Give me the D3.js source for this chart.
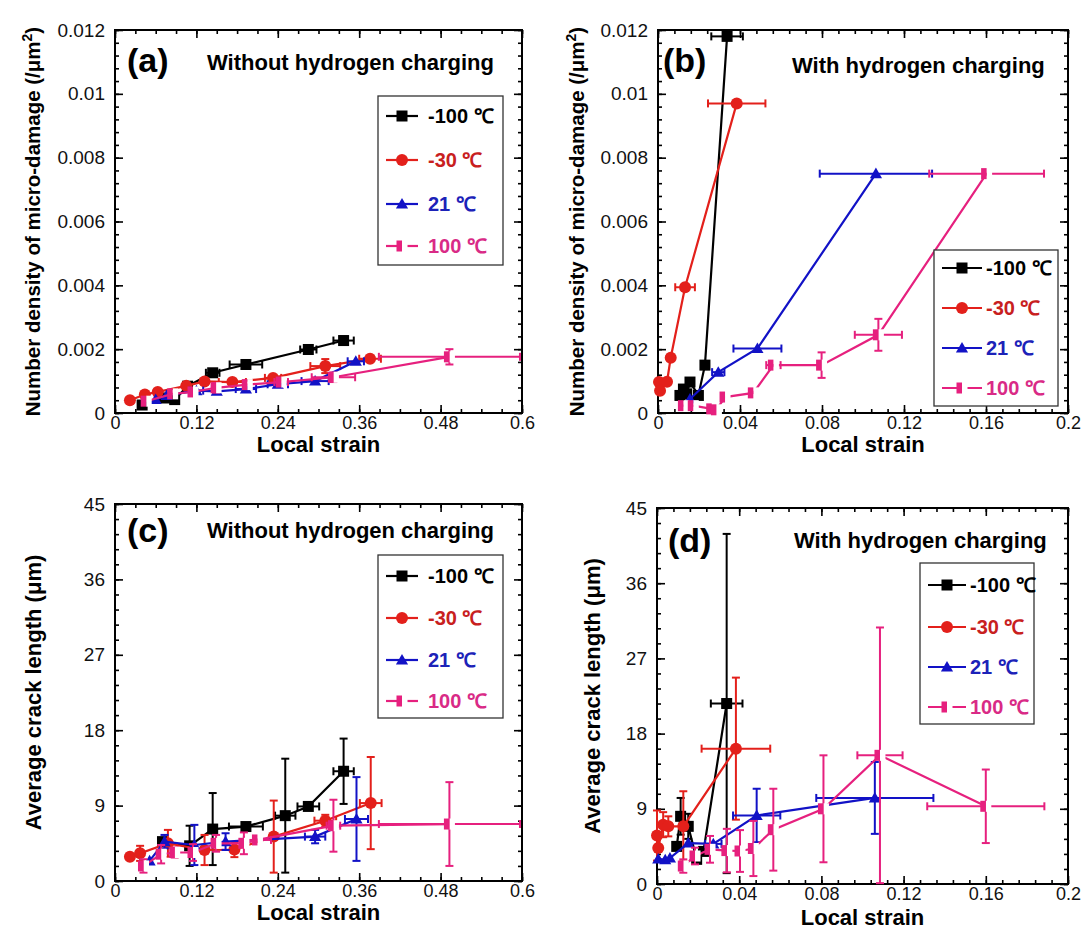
<!DOCTYPE html>
<html><head><meta charset="utf-8">
<script src="https://cdn.jsdelivr.net/npm/d3@7"></script>
<style>
body{margin:0;background:#fff}
svg{display:block}
text{font-family:"Liberation Sans",Arial,Helvetica,sans-serif}
</style>
</head><body>
<svg id="chart" width="1087" height="938"></svg>
<script>
// ---------- tick labels ----------
const strainTicksWide   = [0, 0.12, 0.24, 0.36, 0.48, 0.6];
const strainTicksNarrow = [0, 0.04, 0.08, 0.12, 0.16, 0.2];
const densityTicks      = [0, 0.002, 0.004, 0.006, 0.008, 0.01, 0.012];
const lengthTicks       = [0, 9, 18, 27, 36, 45];
const seriesNames = ["-100 \u2103", "-30 \u2103", "21 \u2103", "100 \u2103"];

// ---------- data: [local strain, value, strain error, value error] ----------
// (a) number density, without hydrogen
const densNoH_m100 = [[0.04,0.00025,0,0],[0.073,0.00047,0,0],[0.088,0.00042,0,0],[0.107,0.00084,0.006,0],[0.144,0.00126,0.01,0],[0.193,0.00152,0.024,0],[0.285,0.00199,0.012,0],[0.337,0.00227,0.015,0.00013]];
const densNoH_m30  = [[0.022,0.0004,0,0],[0.044,0.00058,0,0],[0.063,0.00066,0,0],[0.105,0.00085,0,0.0001],[0.132,0.00099,0,0],[0.173,0.00097,0.02,0],[0.233,0.0011,0.012,0],[0.31,0.00147,0.022,0.00022],[0.376,0.0017,0.016,0.00008]];
const densNoH_21   = [[0.06,0.00042,0,0],[0.076,0.00055,0,0],[0.12,0.0007,0.01,0],[0.15,0.00068,0,0],[0.193,0.00075,0.015,0],[0.24,0.0009,0.015,0],[0.295,0.001,0.02,0],[0.355,0.00162,0.012,0]];
const densNoH_100  = [[0.046,0.00037,0,0],[0.085,0.0006,0,0],[0.115,0.00066,0,0],[0.149,0.00079,0,0.00015],[0.195,0.00089,0,0],[0.245,0.00097,0.01,0],[0.322,0.00112,0.032,0.00015],[0.493,0.00176,0.104,0.00024]];
// (b) number density, with hydrogen
const densH_m100 = [[0.0107,0.00055,0,0],[0.0124,0.00075,0,0],[0.014,0.0006,0,0],[0.0156,0.00097,0,0],[0.0197,0.00055,0,0],[0.0229,0.0015,0,0],[0.0337,0.0118,0.0077,0]];
const densH_m30  = [[0.0005,0.00097,0,0],[0.001,0.0007,0,0],[0.0044,0.00098,0,0],[0.0062,0.00173,0,0],[0.0132,0.00394,0.0048,0],[0.0384,0.0097,0.014,0]];
const densH_21   = [[0.0156,0.00044,0,0],[0.0294,0.00128,0.003,0],[0.0485,0.00202,0.0117,0],[0.1063,0.0075,0.0274,0]];
const densH_100  = [[0.0124,0.00023,0,0],[0.0172,0.00023,0,0],[0.0262,0.00013,0,0],[0.0285,0.0001,0,0],[0.0327,0.0005,0,0],[0.0465,0.00063,0,0],[0.0563,0.0015,0.0035,0],[0.0798,0.0015,0,0.0004],[0.1075,0.00245,0.0115,0.0005],[0.1603,0.0075,0.028,0]];
// (c) average crack length, without hydrogen
const lenNoH_m100 = [[0.07,4.7,0,0],[0.11,4.2,0,2.4],[0.144,6.2,0,4.3],[0.193,6.5,0.025,0],[0.251,7.8,0.015,6.8],[0.285,8.9,0.016,0],[0.337,13.1,0.015,3.9]];
const lenNoH_m30  = [[0.022,2.9,0,0],[0.037,3.3,0,0.9],[0.078,4.5,0,1.6],[0.132,3.7,0,1.8],[0.176,3.75,0,0.9],[0.234,5.3,0,4.3],[0.31,7.2,0.016,0.7],[0.377,9.3,0.016,5.5]];
const lenNoH_21   = [[0.051,2.4,0,0],[0.073,4.7,0,0.8],[0.117,4.3,0,2.4],[0.163,4.7,0,1.0],[0.295,5.3,0.015,0.8],[0.356,7.4,0.017,5.0]];
const lenNoH_100  = [[0.042,1.8,0,0.8],[0.068,3.2,0,1.1],[0.088,3.4,0,0.6],[0.115,3.4,0,1.0],[0.149,4.5,0,1.0],[0.19,4.5,0,1.3],[0.21,4.9,0.02,0],[0.322,6.6,0.01,3.1],[0.493,6.8,0.104,5.0]];
// (d) average crack length, with hydrogen
const lenH_m100 = [[0.0096,4.5,0,0],[0.0115,8.1,0,2.2],[0.0152,6.9,0,1.5],[0.0193,2.95,0,0],[0.0226,3.9,0,0],[0.0339,21.6,0.0077,20.3]];
const lenH_m30  = [[0,5.8,0,3],[0.0006,4.3,0,0],[0.003,7.1,0,1.5],[0.0055,6.9,0,1.2],[0.0128,6.9,0,4.2],[0.0384,16.2,0.0167,8.5]];
const lenH_21   = [[0.0006,3.0,0,0],[0.004,2.9,0,0],[0.0063,3.1,0,0],[0.0152,4.9,0,0],[0.0274,4.8,0.004,0],[0.0485,8.2,0.0115,3.2],[0.106,10.3,0.0285,4.3]];
const lenH_100  = [[0.0128,2.15,0,0.8],[0.0185,3.35,0,1.0],[0.0258,4.15,0,1.6],[0.034,4.0,0,2.6],[0.0404,3.95,0,2.5],[0.0469,4.25,0,3.3],[0.0566,6.5,0,4.9],[0.081,9.0,0,6.4],[0.1085,15.4,0.011,15.3],[0.16,9.3,0.0285,4.4]];

// ---------- styles ----------
const lineColors = ["#000000", "#e3201b", "#1212c6", "#e6207e"];
const textColors = ["#000000", "#c8201e", "#1c22b8", "#d92a86"];
const markerKinds = ["square", "circle", "triangle", "halfsquare"];

const svg = d3.select("#chart");

const panels = [
  {label:"(a)", title:"Without hydrogen charging", left:115, right:522, top:30, bottom:413,
   xMax:0.6, xTicks:strainTicksWide, xMinor:0.03, yMax:0.012, yTicks:densityTicks, yMinor:0.0004,
   series:[densNoH_m100, densNoH_m30, densNoH_21, densNoH_100],
   ylab:"density", ylabX:33, xlabY:452, labX:127, labY:72, titX:207, titY:70,
   leg:{x0:378,y0:96,x1:503,y1:265, rows:[116,160,204,246], l0:386, l1:418, tx:428}},
  {label:"(b)", title:"With hydrogen charging", left:658, right:1068, top:30, bottom:413,
   xMax:0.2, xTicks:strainTicksNarrow, xMinor:0.008, yMax:0.012, yTicks:densityTicks, yMinor:0.0004,
   series:[densH_m100, densH_m30, densH_21, densH_100],
   ylab:"density", ylabX:577, xlabY:452, labX:663, labY:72, titX:792, titY:73,
   leg:{x0:934,y0:250,x1:1058,y1:406, rows:[268,308,348,388], l0:942, l1:982, tx:986}},
  {label:"(c)", title:"Without hydrogen charging", left:115, right:522, top:504, bottom:881,
   xMax:0.6, xTicks:strainTicksWide, xMinor:0.03, yMax:45, yTicks:lengthTicks, yMinor:1.8,
   series:[lenNoH_m100, lenNoH_m30, lenNoH_21, lenNoH_100],
   ylab:"length", ylabX:33, xlabY:920, labX:127, labY:542, titX:207, titY:538,
   leg:{x0:378,y0:555,x1:503,y1:718, rows:[576,618,660,701], l0:386, l1:418, tx:428}},
  {label:"(d)", title:"With hydrogen charging", left:657, right:1068, top:508, bottom:884,
   xMax:0.2, xTicks:strainTicksNarrow, xMinor:0.008, yMax:45, yTicks:lengthTicks, yMinor:1.8,
   series:[lenH_m100, lenH_m30, lenH_21, lenH_100],
   ylab:"length", ylabX:592, xlabY:925, labX:668, labY:552, titX:794, titY:548,
   leg:{x0:920,y0:563,x1:1034,y1:724, rows:[585,627,667,707], l0:928, l1:966, tx:970}}
];

function drawMarker(g, kind, cx, cy, color) {
  if (kind === "square") {
    g.append("rect").attr("x", cx-5.5).attr("y", cy-5.5).attr("width", 11).attr("height", 11).attr("fill", color);
  } else if (kind === "circle") {
    g.append("circle").attr("cx", cx).attr("cy", cy).attr("r", 6).attr("fill", color);
  } else if (kind === "triangle") {
    g.append("path").attr("d", d3.symbol(d3.symbolTriangle, 64)()).attr("transform", `translate(${cx},${cy+1})`).attr("fill", color);
  } else {
    g.append("rect").attr("x", cx).attr("y", cy-5.5).attr("width", 5.5).attr("height", 11).attr("fill", "#ffffff");
    g.append("rect").attr("x", cx-5.5).attr("y", cy-5.5).attr("width", 5.5).attr("height", 11).attr("fill", color);
  }
}

function minorValues(max, step) {
  const n = Math.round(max / step);
  return d3.range(n + 1).map(i => i * step);
}

panels.forEach(p => {
  const g = svg.append("g");
  const x = d3.scaleLinear().domain([0, p.xMax]).range([p.left, p.right]);
  const y = d3.scaleLinear().domain([0, p.yMax]).range([p.bottom, p.top]);
  const fmt = d => String(d);

  const axes = g.append("g").attr("class", "axes");
  // major
  axes.append("g").attr("class", "xlab").attr("transform", `translate(0,${p.bottom})`)
    .call(d3.axisBottom(x).tickValues(p.xTicks).tickSize(-8).tickPadding(3).tickFormat(fmt));
  axes.append("g").attr("transform", `translate(0,${p.top})`)
    .call(d3.axisTop(x).tickValues(p.xTicks).tickSize(-8).tickFormat(""));
  axes.append("g").attr("transform", `translate(${p.left},0)`)
    .call(d3.axisLeft(y).tickValues(p.yTicks).tickSize(-8).tickPadding(10).tickFormat(fmt));
  axes.append("g").attr("transform", `translate(${p.right},0)`)
    .call(d3.axisRight(y).tickValues(p.yTicks).tickSize(-8).tickFormat(""));
  // minor
  const xm = minorValues(p.xMax, p.xMinor), ym = minorValues(p.yMax, p.yMinor);
  axes.append("g").attr("transform", `translate(0,${p.bottom})`)
    .call(d3.axisBottom(x).tickValues(xm).tickSize(-4).tickFormat(""));
  axes.append("g").attr("transform", `translate(0,${p.top})`)
    .call(d3.axisTop(x).tickValues(xm).tickSize(-4).tickFormat(""));
  axes.append("g").attr("transform", `translate(${p.left},0)`)
    .call(d3.axisLeft(y).tickValues(ym).tickSize(-4).tickFormat(""));
  axes.append("g").attr("transform", `translate(${p.right},0)`)
    .call(d3.axisRight(y).tickValues(ym).tickSize(-4).tickFormat(""));
  axes.selectAll(".domain").remove();
  axes.selectAll(".tick line").attr("stroke", "#000").attr("stroke-width", 1.6);
  axes.selectAll(".tick text").attr("font-size", 19).attr("fill", "#111");
  axes.selectAll(".xlab .tick text").attr("font-size", 18);

  g.append("rect").attr("x", p.left).attr("y", p.top).attr("width", p.right - p.left).attr("height", p.bottom - p.top)
    .attr("fill", "none").attr("stroke", "#000").attr("stroke-width", 2);

  // data
  p.series.forEach((data, si) => {
    const col = lineColors[si];
    const sg = g.append("g");
    // error bars
    data.forEach(d => {
      const cx = x(d[0]), cy = y(d[1]);
      if (d[2] > 0) {
        const xa = x(d[0] - d[2]), xb = x(Math.min(d[0] + d[2], p.xMax));
        sg.append("line").attr("x1", xa).attr("x2", xb).attr("y1", cy).attr("y2", cy).attr("stroke", col).attr("stroke-width", 2);
        [xa, xb].forEach(xx => sg.append("line").attr("x1", xx).attr("x2", xx).attr("y1", cy-4).attr("y2", cy+4).attr("stroke", col).attr("stroke-width", 2));
      }
      if (d[3] > 0) {
        const ya = y(Math.max(d[1] - d[3], 0)), yb = y(d[1] + d[3]);
        sg.append("line").attr("x1", cx).attr("x2", cx).attr("y1", ya).attr("y2", yb).attr("stroke", col).attr("stroke-width", 2);
        [ya, yb].forEach(yy => sg.append("line").attr("x1", cx-4).attr("x2", cx+4).attr("y1", yy).attr("y2", yy).attr("stroke", col).attr("stroke-width", 2));
      }
    });
    sg.append("path").datum(data)
      .attr("d", d3.line().x(d => x(d[0])).y(d => y(d[1])))
      .attr("fill", "none").attr("stroke", col).attr("stroke-width", 2.2);
    data.forEach(d => drawMarker(sg, markerKinds[si], x(d[0]), y(d[1]), col));
  });

  // legend
  const L = p.leg;
  g.append("rect").attr("x", L.x0).attr("y", L.y0).attr("width", L.x1 - L.x0).attr("height", L.y1 - L.y0)
    .attr("fill", "#fff").attr("stroke", "#333").attr("stroke-width", 1.3);
  seriesNames.forEach((name, i) => {
    const ry = L.rows[i];
    g.append("line").attr("x1", L.l0).attr("x2", L.l1).attr("y1", ry).attr("y2", ry)
      .attr("stroke", lineColors[i]).attr("stroke-width", 2.2);
    drawMarker(g, markerKinds[i], (L.l0 + L.l1) / 2, ry, lineColors[i]);
    g.append("text").attr("x", L.tx).attr("y", ry + 7).attr("font-size", 20).attr("font-weight", "bold")
      .attr("fill", textColors[i]).text(name);
  });

  // panel label & title
  g.append("text").attr("x", p.labX).attr("y", p.labY).attr("font-size", 34).attr("font-weight", "bold").text(p.label);
  g.append("text").attr("x", p.titX).attr("y", p.titY).attr("font-size", 22).attr("font-weight", "bold").text(p.title);

  // axis titles
  g.append("text").attr("x", (p.left + p.right) / 2).attr("y", p.xlabY).attr("text-anchor", "middle")
    .attr("font-size", 22).attr("font-weight", "bold").text("Local strain");
  const cyl = (p.top + p.bottom) / 2;
  const yt = g.append("text").attr("transform", `translate(${p.ylabX},${cyl}) rotate(-90)`)
    .attr("text-anchor", "middle").attr("dy", "0.36em").attr("font-weight", "bold");
  if (p.ylab === "density") {
    yt.attr("font-size", 20.5);
    yt.append("tspan").text("Number density of micro-damage (/\u03bcm");
    yt.append("tspan").attr("baseline-shift", "super").attr("font-size", 14).text("2");
    yt.append("tspan").text(")");
  } else {
    yt.attr("font-size", 22).text("Average crack length (\u03bcm)");
  }
});
</script>
</body></html>
